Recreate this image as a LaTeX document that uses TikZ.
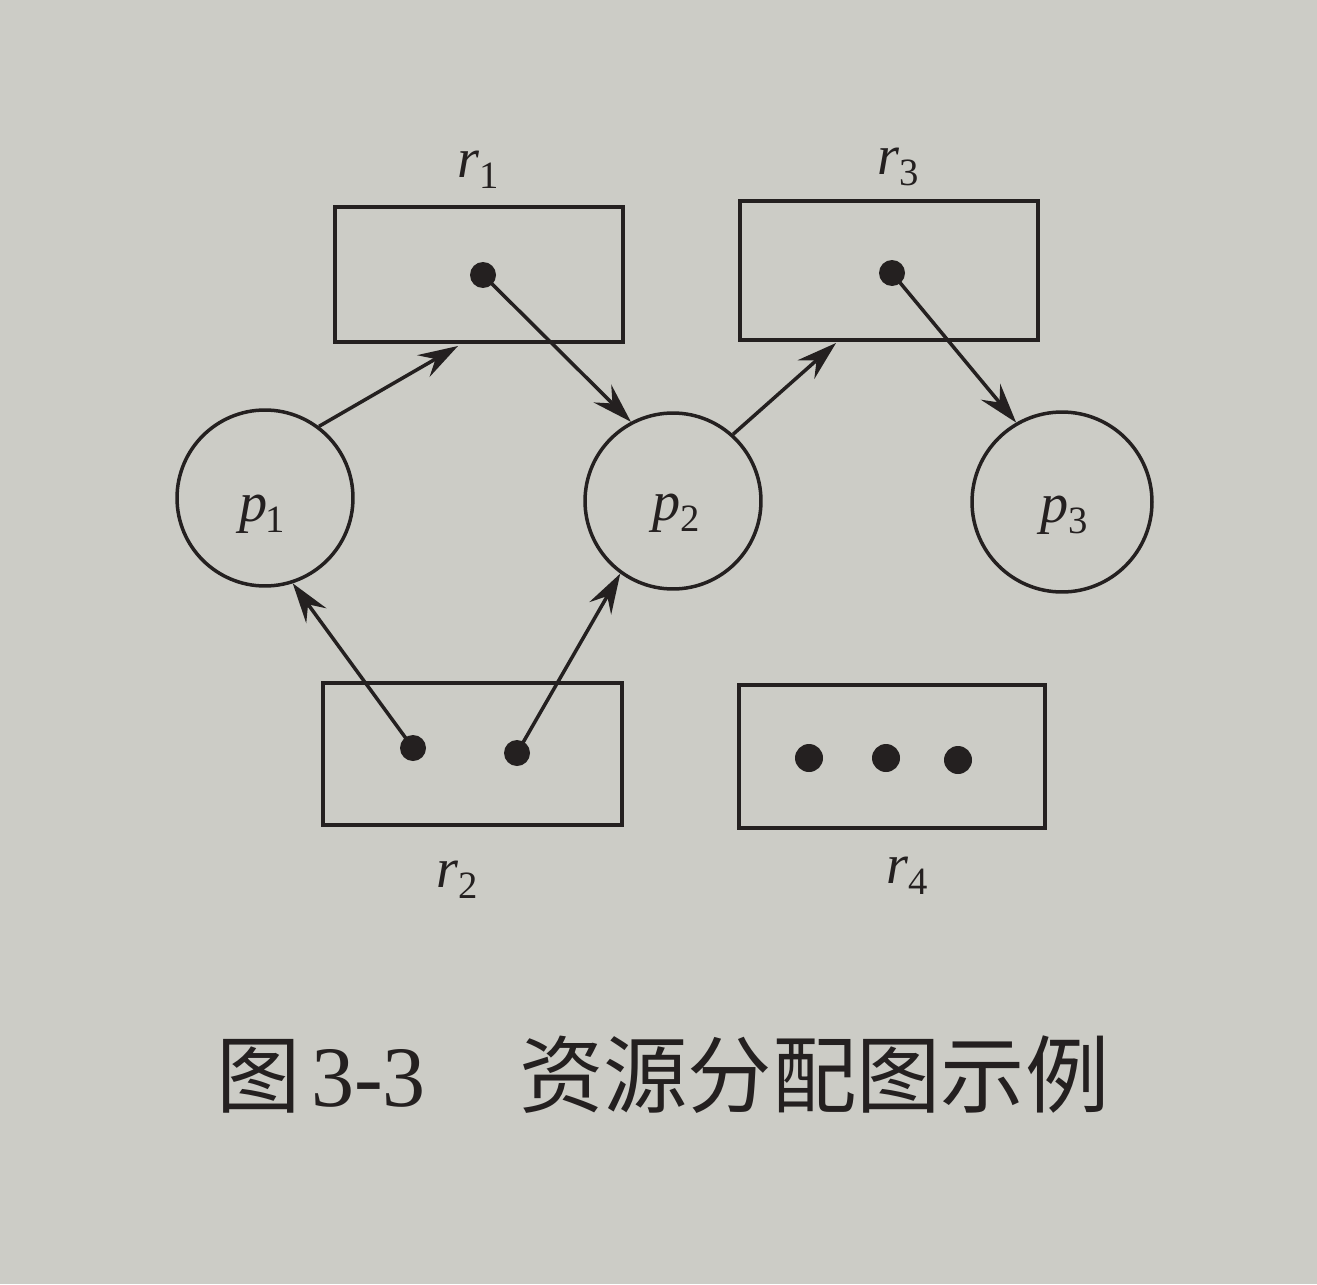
\documentclass[tikz,border=0pt]{standalone}
\usepackage{fontspec}
\setmainfont{Liberation Serif}
\newfontfamily\cjk{Noto Sans CJK SC}
\usetikzlibrary{arrows.meta}
\definecolor{paper}{RGB}{204,204,198}
\definecolor{ink}{RGB}{36,32,32}
\newcommand{\mylab}[2]{{\fontsize{32}{32}\selectfont\itshape #1}\raisebox{-0.62em}{\fontsize{22}{22}\selectfont #2}}
\tikzset{
  resbox/.style={draw=ink, line width=0.08cm, rectangle, inner sep=0pt},
  proc/.style={draw=ink, line width=0.07cm, circle, inner sep=0pt, minimum size=3.52cm},
  tok/.style={circle, fill=ink, inner sep=0pt, minimum size=0.52cm},
  lbl/.style={inner sep=0pt, text=ink},
  arr/.style={draw=ink, line width=0.07cm, -{Stealth[length=0.8cm, width=0.5cm, inset=0.28cm]}},
}
\begin{document}
\begin{tikzpicture}[x=0.02cm, y=-0.02cm]
\useasboundingbox[fill=paper] (0,0) rectangle (1317,1284);
% resource boxes
\node[resbox, minimum width=5.76cm, minimum height=2.70cm] (r1) at (479,274.5) {};
\node[resbox, minimum width=5.96cm, minimum height=2.78cm] (r3) at (889,270.5) {};
\node[resbox, minimum width=5.98cm, minimum height=2.84cm] (r2) at (472.5,754) {};
\node[resbox, minimum width=6.12cm, minimum height=2.86cm] (r4) at (892,756.5) {};
% labels of boxes
\node[lbl] (l1) at (478,170) {\mylab{r}{1}};
\node[lbl] (l3) at (898,167) {\mylab{r}{3}};
\node[lbl] (l2) at (457,880) {\mylab{r}{2}};
\node[lbl] (l4) at (907,876) {\mylab{r}{4}};
% processes
\node[proc] (p1) at (265,498) {};
\node[proc] (p2) at (673,501) {};
\node[proc, minimum size=3.6cm] (p3) at (1062,502) {};
\node[lbl] (q1) at (262,514) {\mylab{p}{\kern-0.05em 1}};
\node[lbl] (q2) at (676,513) {\mylab{p}{2}};
\node[lbl] (q3) at (1064,515) {\mylab{p}{3}};
% tokens
\node[tok] (d1) at (483,275) {};
\node[tok] (d3) at (892,273) {};
\node[tok] (d2a) at (413,748) {};
\node[tok] (d2b) at (517,753) {};
\node[tok, minimum size=0.56cm] (d4a) at (809,758) {};
\node[tok, minimum size=0.56cm] (d4b) at (886,758) {};
\node[tok, minimum size=0.56cm] (d4c) at (958,760) {};
% free arrow ends below boxes
\coordinate (a1) at (458,346);
\coordinate (a2) at (836,343);
% edges
\draw[arr] (p1.53) -- (a1);
\draw[arr] (d1.center) -- (p2.118);
\draw[arr] (p2.48) -- (a2);
\draw[arr] (d3.center) -- (p3.120);
\draw[arr] (d2a.center) -- (p1.288);
\draw[arr] (d2b.center) -- (p2.234);
% caption
\node[lbl, anchor=west] (cap) at (216,1075) {{\fontsize{48}{48}\selectfont\cjk 图}\hspace{6pt}{\fontsize{49}{49}\selectfont 3-3}\hspace{53pt}{\fontsize{48}{48}\selectfont\cjk 资源分配图示例}};
\end{tikzpicture}
\end{document}
